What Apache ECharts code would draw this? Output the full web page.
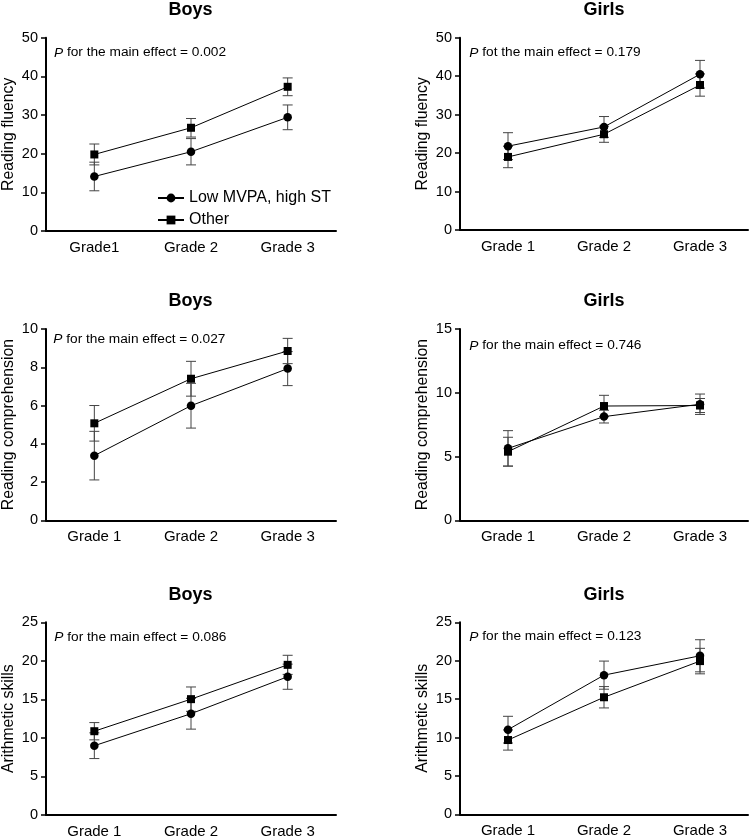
<!DOCTYPE html>
<html>
<head>
<meta charset="utf-8">
<script src="https://cdn.jsdelivr.net/npm/echarts@6/dist/echarts.min.js"></script>
<style>
  html, body { margin: 0; padding: 0; background: #fff; }
  #main { width: 750px; height: 839px; }
</style>
</head>
<body>
<div id="main"></div>
<script>
// categories
var gradesA = ['Grade1', 'Grade 2', 'Grade 3'];
var grades = ['Grade 1', 'Grade 2', 'Grade 3'];
var groupNames = ['Low MVPA, high ST', 'Other'];

// reading fluency
var fluencyBoysLow = [14.1, 20.5, 29.4];
var fluencyBoysLowErr = [3.7, 3.4, 3.2];
var fluencyBoysOther = [19.8, 26.7, 37.3];
var fluencyBoysOtherErr = [2.7, 2.4, 2.3];
var fluencyGirlsLow = [21.8, 26.8, 40.5];
var fluencyGirlsLowErr = [3.5, 2.7, 3.6];
var fluencyGirlsOther = [19.0, 24.9, 37.7];
var fluencyGirlsOtherErr = [2.8, 2.1, 2.9];

// reading comprehension
var compBoysLow = [3.38, 5.99, 7.93];
var compBoysLowErr = [1.27, 1.17, 0.89];
var compBoysOther = [5.07, 7.40, 8.85];
var compBoysOtherErr = [0.93, 0.91, 0.66];
var compGirlsLow = [5.64, 8.13, 9.1];
var compGirlsLowErr = [1.39, 0.5, 0.8];
var compGirlsOther = [5.38, 8.96, 9.0];
var compGirlsOtherErr = [1.13, 0.84, 0.55];

// arithmetic skills
var arithBoysLow = [8.99, 13.14, 17.94];
var arithBoysLowErr = [1.67, 2.0, 1.63];
var arithBoysOther = [10.87, 15.03, 19.48];
var arithBoysOtherErr = [1.12, 1.58, 1.24];
var arithGirlsLow = [11.02, 18.12, 20.64];
var arithGirlsLowErr = [1.74, 1.83, 2.09];
var arithGirlsOther = [9.67, 15.24, 19.95];
var arithGirlsOtherErr = [1.31, 1.39, 1.66];

// y axis ranges [max, interval]
var fluencyAxis = [50, 10];
var compBoysAxis = [10, 2];
var compGirlsAxis = [15, 5];
var arithAxis = [25, 5];

var pTexts = ['0.002', '0.179', '0.027', '0.746', '0.086', '0.123'];

var FONT = "'Liberation Sans', Arial, sans-serif";

var panels = [
  { title: 'Boys', yName: 'Reading fluency', cats: gradesA, axis: fluencyAxis,
    low: fluencyBoysLow, lowErr: fluencyBoysLowErr, other: fluencyBoysOther, otherErr: fluencyBoysOtherErr,
    word: 'for', grid: { left: 45, top: 37.7, width: 291, height: 193.3 }, pPos: [54, 52.7] },
  { title: 'Girls', yName: 'Reading fluency', cats: grades, axis: fluencyAxis,
    low: fluencyGirlsLow, lowErr: fluencyGirlsLowErr, other: fluencyGirlsOther, otherErr: fluencyGirlsOtherErr,
    word: 'fot', grid: { left: 460, top: 37.7, width: 288, height: 192.3 }, pPos: [469.3, 52.7] },
  { title: 'Boys', yName: 'Reading comprehension', cats: grades, axis: compBoysAxis,
    low: compBoysLow, lowErr: compBoysLowErr, other: compBoysOther, otherErr: compBoysOtherErr,
    word: 'for', grid: { left: 45, top: 329, width: 291, height: 191.3 }, pPos: [53.3, 339.3] },
  { title: 'Girls', yName: 'Reading comprehension', cats: grades, axis: compGirlsAxis,
    low: compGirlsLow, lowErr: compGirlsLowErr, other: compGirlsOther, otherErr: compGirlsOtherErr,
    word: 'for', grid: { left: 460, top: 329, width: 288, height: 191.3 }, pPos: [469.3, 345.7] },
  { title: 'Boys', yName: 'Arithmetic skills', cats: grades, axis: arithAxis,
    low: arithBoysLow, lowErr: arithBoysLowErr, other: arithBoysOther, otherErr: arithBoysOtherErr,
    word: 'for', grid: { left: 45, top: 622.3, width: 291, height: 194.7 }, pPos: [54.3, 637.3] },
  { title: 'Girls', yName: 'Arithmetic skills', cats: grades, axis: arithAxis,
    low: arithGirlsLow, lowErr: arithGirlsLowErr, other: arithGirlsOther, otherErr: arithGirlsOtherErr,
    word: 'for', grid: { left: 460, top: 622.3, width: 288, height: 192 }, pPos: [469.3, 636.7] }
];

function errorBars(means, errs) {
  return means.map(function (m, i) { return [i, m - errs[i], m + errs[i]]; });
}

function renderError(params, api) {
  var x = api.value(0);
  var lo = api.coord([x, api.value(1)]);
  var hi = api.coord([x, api.value(2)]);
  var w = 5;
  var style = { stroke: '#444', lineWidth: 1 };
  return {
    type: 'group',
    children: [
      { type: 'line', shape: { x1: lo[0], y1: lo[1], x2: hi[0], y2: hi[1] }, style: style },
      { type: 'line', shape: { x1: lo[0] - w, y1: lo[1], x2: lo[0] + w, y2: lo[1] }, style: style },
      { type: 'line', shape: { x1: hi[0] - w, y1: hi[1], x2: hi[0] + w, y2: hi[1] }, style: style }
    ]
  };
}

var grids = [], xAxes = [], yAxes = [], series = [], graphics = [];

panels.forEach(function (pn, k) {
  grids.push(pn.grid);
  xAxes.push({
    type: 'category', gridIndex: k, data: pn.cats, boundaryGap: true,
    axisLine: { lineStyle: { color: '#000', width: 2 } },
    axisTick: { alignWithLabel: true, length: 5, lineStyle: { color: '#000', width: 1.5 } },
    axisLabel: { color: '#000', fontSize: 15, fontFamily: FONT, margin: 9 }
  });
  yAxes.push({
    type: 'value', gridIndex: k, min: 0, max: pn.axis[0], interval: pn.axis[1],
    name: pn.yName, nameLocation: 'middle', nameGap: 29,
    nameTextStyle: { color: '#000', fontSize: 15.8, fontFamily: FONT },
    axisLine: { show: true, lineStyle: { color: '#000', width: 2 } },
    axisTick: { show: true, length: 5, lineStyle: { color: '#000', width: 1.5 } },
    axisLabel: { color: '#000', fontSize: 14.5, fontFamily: FONT, margin: 8 },
    splitLine: { show: false }
  });

  [[pn.low, pn.lowErr], [pn.other, pn.otherErr]].forEach(function (d) {
    series.push({
      type: 'custom', xAxisIndex: k, yAxisIndex: k, z: 1, silent: true,
      renderItem: renderError, data: errorBars(d[0], d[1]),
      encode: { x: 0, y: [1, 2] }
    });
  });
  series.push({
    name: groupNames[0], type: 'line', xAxisIndex: k, yAxisIndex: k, z: 3,
    data: pn.low, symbol: 'circle', symbolSize: 8.5,
    lineStyle: { color: '#000', width: 1 }, itemStyle: { color: '#000' }
  });
  series.push({
    name: groupNames[1], type: 'line', xAxisIndex: k, yAxisIndex: k, z: 3,
    data: pn.other, symbol: 'rect', symbolSize: 8,
    lineStyle: { color: '#000', width: 1 }, itemStyle: { color: '#000' }
  });

  // panel title
  graphics.push({
    type: 'text', x: pn.grid.left + pn.grid.width / 2, y: pn.grid.top - 27.7,
    style: { text: pn.title, fontSize: 18, fontWeight: 'bold', fontFamily: FONT, fill: '#000',
      align: 'center', verticalAlign: 'middle' }
  });
  // p value note
  graphics.push({
    type: 'text', x: pn.pPos[0], y: pn.pPos[1],
    style: {
      text: '{i|P} ' + pn.word + ' the main effect = ' + pTexts[k],
      fontSize: 13.7, fontFamily: FONT, fill: '#000', verticalAlign: 'middle',
      rich: { i: { fontStyle: 'italic', fontSize: 13.7, fontFamily: FONT, fill: '#000' } }
    }
  });
});

var option = {
  animation: false,
  backgroundColor: '#fff',
  grid: grids,
  xAxis: xAxes,
  yAxis: yAxes,
  legend: {
    data: groupNames, orient: 'vertical', left: 152, top: 185,
    itemWidth: 26, itemHeight: 11, itemGap: 6,
    textStyle: { color: '#000', fontSize: 16, fontFamily: FONT }
  },
  graphic: graphics,
  series: series
};

var chart = echarts.init(document.getElementById('main'), null, { renderer: 'canvas' });
chart.setOption(option);
</script>
</body>
</html>
